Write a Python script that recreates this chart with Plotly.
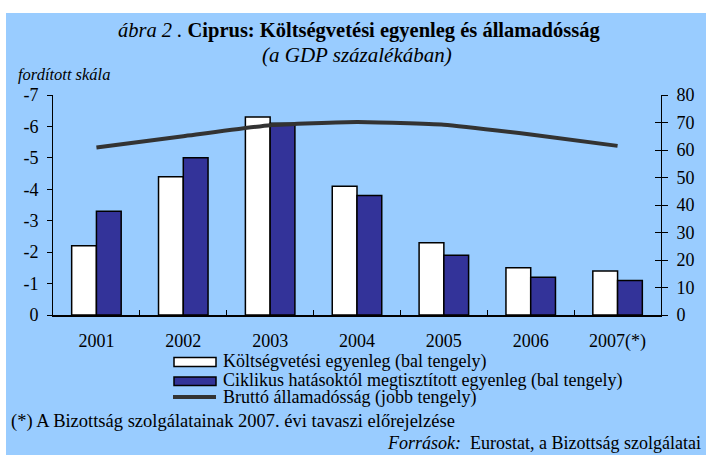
import plotly.graph_objects as go

years = ["2001", "2002", "2003", "2004", "2005", "2006", "2007(*)"]
budget_balance = [-2.2, -4.4, -6.3, -4.1, -2.3, -1.5, -1.4]
cyc_adj_balance = [-3.3, -5.0, -6.1, -3.8, -1.9, -1.2, -1.1]
gross_debt = [60.9, 65.0, 69.0, 70.2, 69.2, 65.6, 61.5]

left_ticks = [0, -1, -2, -3, -4, -5, -6, -7]
right_ticks = [0, 10, 20, 30, 40, 50, 60, 70, 80]

legend_labels = [
    "Költségvetési egyenleg (bal tengely)",
    "Ciklikus hatásoktól megtisztított egyenleg (bal tengely)",
    "Bruttó államadósság (jobb tengely)",
]

SERIF = "Liberation Serif"
BG = "#99CCFF"
BLUE = "#333399"
LINE = "#333333"

fig = go.Figure()
fig.add_trace(go.Bar(
    x=years, y=budget_balance, name=legend_labels[0],
    marker=dict(color="white", line=dict(color="black", width=1.5)),
))
fig.add_trace(go.Bar(
    x=years, y=cyc_adj_balance, name=legend_labels[1],
    marker=dict(color=BLUE, line=dict(color="black", width=1.5)),
))
fig.add_trace(go.Scatter(
    x=years, y=gross_debt, name=legend_labels[2],
    mode="lines", yaxis="y2",
    line=dict(color=LINE, width=4, shape="spline", smoothing=0.4),
))

L, R, T, B = 53, 45, 95, 140
W, H = 706, 455
pw, ph = W - L - R, H - T - B


def px_x(x):
    return (x - L) / pw


def px_y(y):
    return (H - B - y) / ph


shapes = [dict(
    type="rect", xref="paper", yref="paper", layer="below",
    x0=px_x(6), x1=px_x(706), y0=px_y(455), y1=px_y(13),
    fillcolor=BG, line=dict(width=0),
)]
# legend swatches
shapes.append(dict(type="rect", xref="paper", yref="paper",
                   x0=px_x(174), x1=px_x(216), y0=px_y(366.5), y1=px_y(357.5),
                   fillcolor="white", line=dict(color="black", width=1.5)))
shapes.append(dict(type="rect", xref="paper", yref="paper",
                   x0=px_x(174), x1=px_x(216), y0=px_y(385.5), y1=px_y(377),
                   fillcolor=BLUE, line=dict(color="black", width=1.5)))
shapes.append(dict(type="line", xref="paper", yref="paper",
                   x0=px_x(173), x1=px_x(216), y0=px_y(397), y1=px_y(397),
                   line=dict(color=LINE, width=4)))

annotations = [
    dict(text="<i>ábra 2 .</i> <b>Ciprus: Költségvetési egyenleg és államadósság</b>",
         x=px_x(359), y=px_y(30), xanchor="center", font=dict(size=20.5)),
    dict(text="<i>(a GDP százalékában)</i>",
         x=px_x(357), y=px_y(55), xanchor="center", font=dict(size=21)),
    dict(text="<i>fordított skála</i>",
         x=px_x(16), y=px_y(74), xanchor="left", font=dict(size=16.5)),
    dict(text="(*) A Bizottság szolgálatainak 2007. évi tavaszi előrejelzése",
         x=px_x(9), y=px_y(421), xanchor="left", font=dict(size=18.5)),
    dict(text="<i>Források:</i>  Eurostat, a Bizottság szolgálatai",
         x=px_x(703), y=px_y(443), xanchor="right", font=dict(size=18)),
]
ly = [361.5, 380.5, 397.5]
for lab, yy in zip(legend_labels, ly):
    annotations.append(dict(text=lab, x=px_x(221), y=px_y(yy), xanchor="left",
                            font=dict(size=18)))
for a in annotations:
    a.update(xref="paper", yref="paper", yanchor="middle", showarrow=False)
    a["font"].update(family=SERIF, color="black")

fig.update_layout(
    width=W, height=H,
    margin=dict(l=L, r=R, t=T, b=B, pad=0, autoexpand=False),
    paper_bgcolor="white",
    plot_bgcolor="rgba(0,0,0,0)",
    font=dict(family=SERIF, size=18, color="black"),
    barmode="group", bargap=0.43, bargroupgap=0,
    showlegend=False,
    xaxis=dict(
        showgrid=False, showline=True, linecolor="black", linewidth=1.5,
        ticks="inside", ticklen=5, tickson="boundaries", tickcolor="black",
        ticklabelstandoff=9, tickfont=dict(family=SERIF, size=18),
        automargin=False,
    ),
    yaxis=dict(
        range=[0, -7], tickvals=left_ticks, ticktext=[str(v) for v in left_ticks],
        showgrid=False, zeroline=False, showline=True, linecolor="black", linewidth=1,
        ticks="outside", ticklen=5, tickcolor="black", ticklabelstandoff=5,
        tickfont=dict(family=SERIF, size=18), automargin=False,
    ),
    yaxis2=dict(
        range=[0, 80], tickvals=right_ticks, overlaying="y", side="right",
        showgrid=False, zeroline=False, showline=True, linecolor="black", linewidth=1,
        ticks="outside", ticklen=6, tickcolor="black", ticklabelstandoff=5,
        tickfont=dict(family=SERIF, size=18), automargin=False,
    ),
    yaxis3=dict(
        range=[0, 80], tickvals=right_ticks, overlaying="y", side="right",
        showgrid=False, zeroline=False, showline=False, showticklabels=False,
        ticks="inside", ticklen=6, tickcolor="black", automargin=False,
    ),
    shapes=shapes,
    annotations=annotations,
)
# invisible helper trace so the inside-tick axis on the right is drawn
fig.add_trace(go.Scatter(x=years[:1], y=gross_debt[:1], yaxis="y3", mode="markers",
                         marker=dict(opacity=0), hoverinfo="skip", showlegend=False))

fig.write_html("out.html", config={"displayModeBar": False},
               post_script="document.body.style.margin='0';")
